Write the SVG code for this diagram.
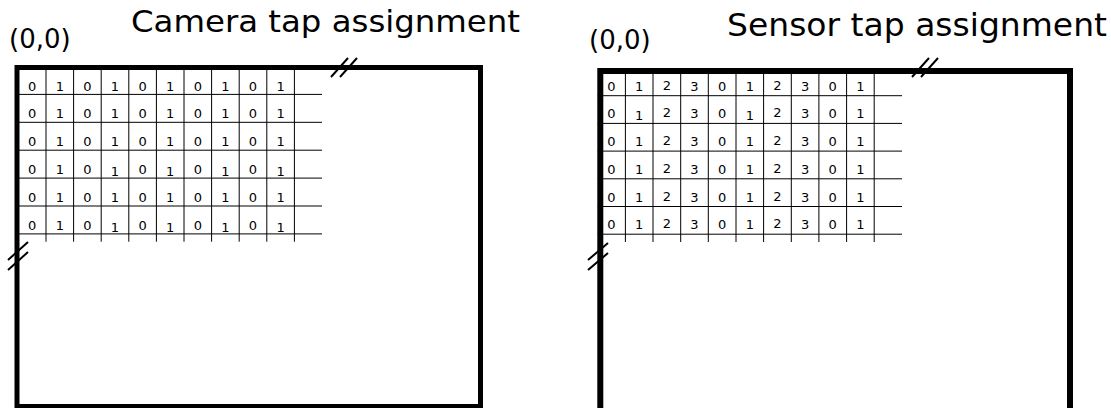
<svg xmlns="http://www.w3.org/2000/svg" width="1111" height="408" viewBox="0 0 1111 408">
<style>
.title{font-family:"DejaVu Sans","Verdana",sans-serif;fill:#000}
.org{font-family:"DejaVu Sans","Verdana",sans-serif;font-size:26px;fill:#000}
.d{font-family:"DejaVu Sans","Verdana",sans-serif;font-size:13px;fill:#000;text-anchor:middle}
.frame{fill:none;stroke:#000}
.g{stroke:#000;stroke-width:1;fill:none}
.sl{stroke:#000;stroke-width:2;fill:none}
</style>
<rect width="1111" height="408" fill="#fff"/>

<g id="camera">
  <text class="org" x="9" y="48">(0,0)</text>
  <text class="title" x="131" y="32" font-size="30.5" textLength="389" lengthAdjust="spacingAndGlyphs">Camera tap assignment</text>
  <rect class="frame" x="17" y="67.5" width="463.5" height="339" stroke-width="5"/>
  <g id="camera-grid">
    <path class="g" d="M18.4 94.4H322M18.4 122.3H322M18.4 150.2H322M18.4 178.1H322M18.4 206H322M18.4 233.9H322"/>
    <path class="g" d="M46 66.5V241.7M73.6 66.5V241.7M101.2 66.5V241.7M128.8 66.5V241.7M156.4 66.5V241.7M184 66.5V241.7M211.6 66.5V241.7M239.2 66.5V241.7M266.8 66.5V241.7M294.4 66.5V241.7"/>
    <text class="d" x="32.2 59.8 87.4 115 142.6 170.2 197.8 225.4 253 280.6" y="90.5">0101010101</text>
    <text class="d" x="32.2 59.8 87.4 115 142.6 170.2 197.8 225.4 253 280.6" y="118.4">0101010101</text>
    <text class="d" x="32.2 59.8 87.4 115 142.6 170.2 197.8 225.4 253 280.6" y="146.3">0101010101</text>
    <text class="d" x="32.2 59.8 87.4 115 142.6 170.2 197.8 225.4 253 280.6" y="174.2 174.2 174.2 176.2 174.2 176.2 174.2 176.2 174.2 176.2">0101010101</text>
    <text class="d" x="32.2 59.8 87.4 115 142.6 170.2 197.8 225.4 253 280.6" y="202.1">0101010101</text>
    <text class="d" x="32.2 59.8 87.4 115 142.6 170.2 197.8 225.4 253 280.6" y="230 230 230 232 230 232 230 232 230 232">0101010101</text>
  </g>
  <path class="sl" d="M331 77L348 58M340 77L357 58"/>
  <path class="sl" d="M8 260L28 242M8 270L28 252"/>
</g>

<g id="sensor">
  <text class="org" x="589" y="49">(0,0)</text>
  <text class="title" x="727" y="36" font-size="31.5" textLength="380" lengthAdjust="spacingAndGlyphs">Sensor tap assignment</text>
  <rect class="frame" x="600.3" y="71" width="469.7" height="360" stroke-width="6"/>
  <g id="sensor-grid">
    <path class="g" d="M597.7 95.7H902M597.7 123.4H902M597.7 151.1H902M597.7 178.8H902M597.7 206.5H902M597.7 234.2H902"/>
    <path class="g" d="M625.4 68V242M653 68V242M680.7 68V242M708.3 68V242M736 68V242M763.6 68V242M791.3 68V242M818.9 68V242M846.6 68V242M874.2 68V242"/>
    <text class="d" x="611.5 639.2 666.8 694.5 722.1 749.8 777.4 805.1 832.7 860.4" y="90.7 90.7 89.7 90.7 90.7 90.7 89.7 90.7 90.7 90.7">0123012301</text>
    <text class="d" x="611.5 639.2 666.8 694.5 722.1 749.8 777.4 805.1 832.7 860.4" y="118.4 120.4 117.4 118.4 118.4 120.4 117.4 118.4 118.4 118.4">0123012301</text>
    <text class="d" x="611.5 639.2 666.8 694.5 722.1 749.8 777.4 805.1 832.7 860.4" y="146.1 146.1 145.1 146.1 146.1 146.1 145.1 146.1 146.1 146.1">0123012301</text>
    <text class="d" x="611.5 639.2 666.8 694.5 722.1 749.8 777.4 805.1 832.7 860.4" y="173.8 173.8 172.8 173.8 173.8 173.8 172.8 173.8 173.8 173.8">0123012301</text>
    <text class="d" x="611.5 639.2 666.8 694.5 722.1 749.8 777.4 805.1 832.7 860.4" y="201.5 201.5 200.5 201.5 201.5 201.5 200.5 201.5 201.5 201.5">0123012301</text>
    <text class="d" x="611.5 639.2 666.8 694.5 722.1 749.8 777.4 805.1 832.7 860.4" y="229.2 229.2 228.2 229.2 229.2 229.2 228.2 229.2 229.2 229.2">0123012301</text>
  </g>
  <path class="sl" d="M912 77L929 58M921 77L938 58"/>
  <path class="sl" d="M588 260L608 243M588 270L608 253"/>
</g>
</svg>
